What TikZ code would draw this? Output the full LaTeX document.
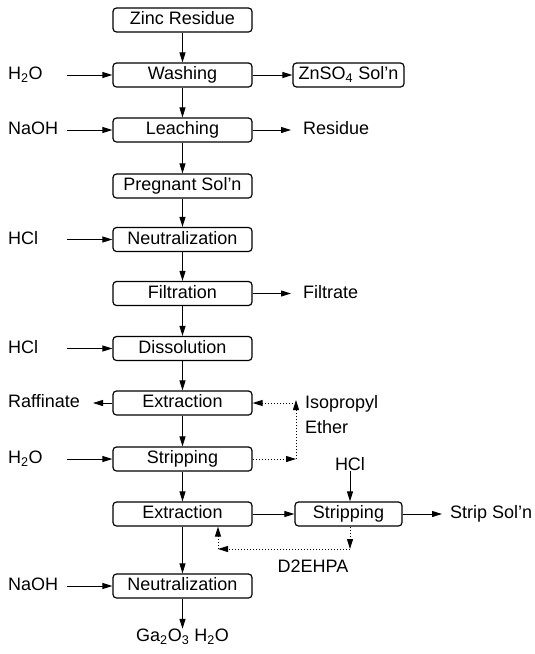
\documentclass[tikz,border=0pt]{standalone}
\usepackage{fontspec}
\setmainfont{Liberation Sans}
\usetikzlibrary{arrows.meta}
\begin{document}
\begin{tikzpicture}[x=1pt,y=-1pt,
  box/.style={draw,line width=1.2pt,rounded corners=3.5pt,minimum width=139pt,minimum height=24pt,inner sep=0pt,text height=12.5pt,text depth=3.5pt,font=\fontsize{18}{20}\selectfont},
  lbl/.style={inner sep=0pt,text height=12.5pt,text depth=3.5pt,font=\fontsize{18}{20}\selectfont},
  arr/.style={line width=1pt,-{Triangle[length=10pt,width=6pt]}},
  dotarr/.style={line width=1pt,dotted,-{Triangle[length=10pt,width=6pt]}}]
\useasboundingbox (0,0) rectangle (535,654);

% main column
\node[box] (zr) at (182.5,20) {Zinc Residue};
\node[box] (wash) at (182.5,75) {Washing};
\node[box] (leach) at (182.5,130) {Leaching};
\node[box] (preg) at (182.5,186) {Pregnant Sol'n};
\node[box] (neut1) at (182.5,239.5) {Neutralization};
\node[box] (filt) at (182.5,293.5) {Filtration};
\node[box] (diss) at (182.5,348.5) {Dissolution};
\node[box] (ext1) at (182.5,403) {Extraction};
\node[box] (strip1) at (182.5,459) {Stripping};
\node[box] (ext2) at (182.5,514) {Extraction};
\node[box] (neut2) at (182.5,586) {Neutralization};
\node[lbl] (ga) at (182.5,637) {Ga\textsubscript{2}O\textsubscript{3} H\textsubscript{2}O};

% side boxes
\node[box,minimum width=111pt] (zn) at (348.5,75) {ZnSO\textsubscript{4} Sol'n};
\node[box,minimum width=107pt] (strip2) at (348.5,514) {Stripping};

% left labels
\node[lbl,anchor=west] (h2oa) at (8,75) {H\textsubscript{2}O};
\node[lbl,anchor=west] (naoha) at (8,130) {NaOH};
\node[lbl,anchor=west] (hcla) at (8,239.5) {HCl};
\node[lbl,anchor=west] (hclb) at (8,348.5) {HCl};
\node[lbl,anchor=west] (raff) at (8,403) {Raffinate};
\node[lbl,anchor=west] (h2ob) at (8,459) {H\textsubscript{2}O};
\node[lbl,anchor=west] (naohb) at (8,586) {NaOH};

\coordinate (sa) at (67,75);
\coordinate (sb) at (67,130);
\coordinate (sc) at (67,239.5);
\coordinate (sd) at (67,348.5);
\coordinate (se) at (67,459);
\coordinate (sf) at (67,586);
\coordinate (rf) at (93,403);

% right labels
\node[lbl,anchor=west] (res) at (303,130) {Residue};
\node[lbl,anchor=west] (filtr) at (303,293.5) {Filtrate};
\node[lbl,anchor=west] (iso) at (305,404) {Isopropyl};
\node[lbl,anchor=west] (eth) at (305,429) {Ether};
\node[lbl] (hclc) at (350,466) {HCl};
\node[lbl,anchor=west] (ssol) at (450,514) {Strip Sol'n};
\node[lbl] (d2e) at (313,568) {D2EHPA};

\coordinate (ra) at (291,130);
\coordinate (rb) at (291,293.5);
\coordinate (rc) at (442,514);

% main column connectors
\draw[arr] (zr) -- (wash);
\draw[arr] (wash) -- (leach);
\draw[arr] (leach) -- (preg);
\draw[arr] (preg) -- (neut1);
\draw[arr] (neut1) -- (filt);
\draw[arr] (filt) -- (diss);
\draw[arr] (diss) -- (ext1);
\draw[arr] (ext1) -- (strip1);
\draw[arr] (strip1) -- (ext2);
\draw[arr] (ext2) -- (neut2);
\draw[arr] (neut2) -- (ga);

% inputs
\draw[arr] (sa) -- (wash.west);
\draw[arr] (sb) -- (leach.west);
\draw[arr] (sc) -- (neut1.west);
\draw[arr] (sd) -- (diss.west);
\draw[arr] (se) -- (strip1.west);
\draw[arr] (sf) -- (neut2.west);
\draw[arr] (ext1.west) -- (rf);

% outputs
\draw[arr] (wash.east) -- (zn.west);
\draw[arr] (leach.east) -- (ra);
\draw[arr] (filt.east) -- (rb);
\draw[arr] (ext2.east) -- (strip2.west);
\draw[arr] (strip2.east) -- (rc);
\draw[arr] ([yshift=3pt]hclc.south) -- (hclc.south |- strip2.north);

% isopropyl ether recycle
\coordinate (ip1) at (296,459);
\coordinate (ip2) at (296,403);
\draw[dotarr] (strip1.east) -- (ip1);
\draw[dotarr] (ip1) -- ([yshift=3pt]ip2);
\draw[dotarr] (ip2) -- (ext1.east);

% D2EHPA recycle
\coordinate (d1) at (350,549);
\coordinate (d2) at (218,549);
\draw[dotarr] (d1 |- strip2.south) -- (d1);
\draw[dotarr] (d1) -- (d2);
\draw[dotarr] (d2) -- (d2 |- ext2.south);
\end{tikzpicture}
\end{document}
